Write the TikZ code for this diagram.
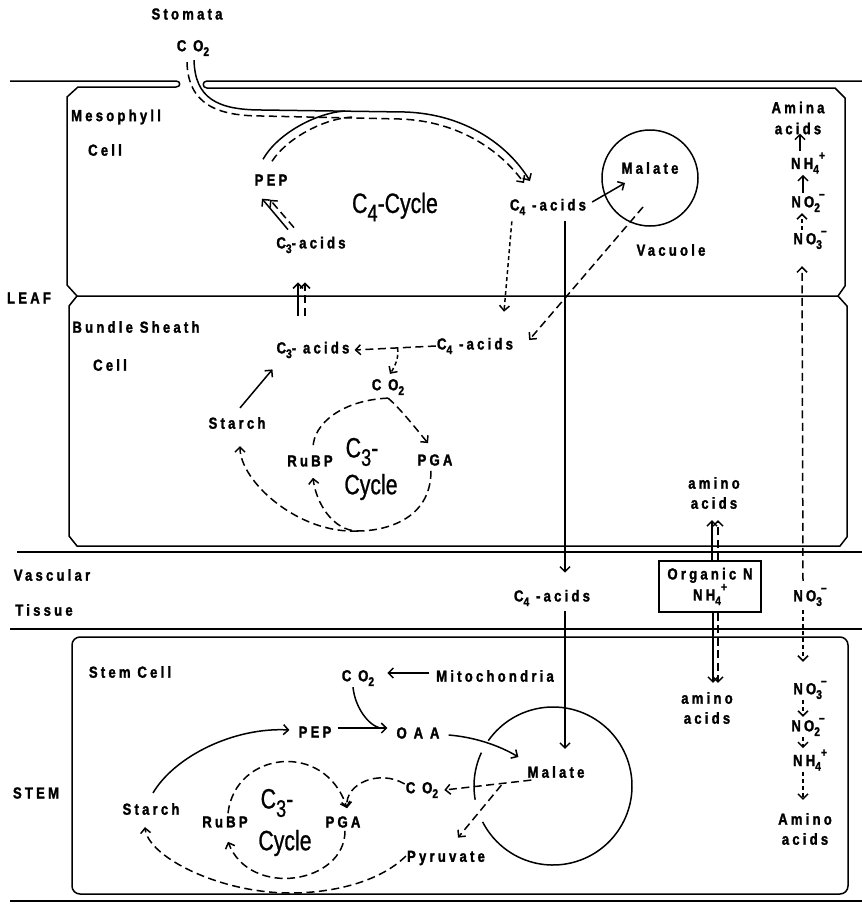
\documentclass[tikz,border=0pt]{standalone}
\usepackage{fontspec}
\newfontfamily\labfont[FakeStretch=0.82,LetterSpace=20,FakeBold=1.6]{Liberation Sans Bold}
\newfontfamily\bigfont[FakeStretch=0.76,FakeBold=0.8]{Liberation Sans}
\usetikzlibrary{arrows.meta,calc}
\newcommand\lowr[1]{\raisebox{-.55ex}{\fontsize{12.5}{12.5}\selectfont#1}}
\newcommand\highr[1]{\raisebox{1.1ex}{\fontsize{12.5}{12.5}\selectfont#1}}
\newcommand\ionm[1]{\lowr{#1}\kern-1pt\highr{\textendash}}
\newcommand\bsub[1]{\raisebox{-.3em}{\fontsize{24}{24}\selectfont#1}}
\tikzset{
  lab/.style={font=\labfont\fontsize{16}{20}\selectfont, inner sep=1pt, align=center},
  big/.style={font=\bigfont\fontsize{28}{30}\selectfont, inner sep=0pt},
  wall/.style={line width=1.5pt, line join=round},
  wire/.style={line width=1.5pt},
  dwire/.style={wire, dash pattern=on 8pt off 4.5pt},
  flow/.style={wire, -{Straight Barb[length=5pt,width=10pt]}},
  dflow/.style={flow, dash pattern=on 8pt off 4.5pt},
  sflow/.style={flow, dash pattern=on 4pt off 3pt},
}
\begin{document}
\begin{tikzpicture}[x=1pt,y=-1pt]
\useasboundingbox (0,0) rectangle (862,906);
% walls of leaf and stem
\draw[wall] (10,81) -- (176,81) .. controls (181,81) and (181,87) .. (176,87) -- (78,87) -- (67,97) -- (67,285) -- (77,296);
\draw[wall] (862,81) -- (207,81) .. controls (202,81) and (202,88) .. (207,88) -- (835,88) -- (845,98) -- (845,286) -- (838,296) -- (77,296) -- (69,306) -- (69,536) -- (77,546) -- (840,546) -- (847,537) -- (847,306) -- (838,296);
\draw[wall] (17,552) -- (862,552);
\draw[wall] (10,629) -- (862,629);
\draw[wall, rounded corners=8pt] (72,637) rectangle (848,894);
\draw[wall] (10,901) -- (862,901);
% vacuoles
\node[draw, circle, wall, minimum size=96pt, inner sep=0pt] (vacm) at (650,178) {};
\coordinate (vacs) at (553,786);
\draw[wall] ($(vacs)+(215:79)$) arc[start angle=215, end angle=513, radius=79];
\draw[wall] ($(vacs)+(170:79)$) arc[start angle=170, end angle=205, radius=79];

% mesophyll
\node[lab] (stomata) at (187,14) {Stomata};
\node[lab] (co2t) at (193,48) {C O\lowr{2}};
\node[lab] (meso) at (116,117) {Mesophyll};
\node[lab] (mcell) at (105,150) {Cell};
\node[lab] (pep) at (271,180) {PEP};
\node[big] (c4cyc) at (395,207) {C\bsub{4}-Cycle};
\node[lab] (c3m) at (311,245) {C\lowr{3}-acids};
\node[lab] (c4m) at (548,207) {C\lowr{4} -acids};
\node[lab] (malm) at (650,168) {Malate};
\node[lab] (vacl) at (671,250) {Vacuole};
\node[lab] (aminm) at (798,118) {Amina\\[1pt]acids};
\node[lab] (nh4m) at (808,163) {NH\lowr{4}\highr{+}};
\node[lab] (no2m) at (808,203) {NO\ionm{2}};
\node[lab] (no3m) at (810,240) {NO\ionm{3}};
\node[lab] (leaf) at (29,298) {LEAF};
% bundle sheath
\node[lab] (bundle) at (136,327) {Bundle Sheath};
\node[lab] (bcell) at (110,365) {Cell};
\node[lab] (c3b) at (313,350) {C\lowr{3}- acids};
\node[lab] (c4b) at (475,346) {C\lowr{4} -acids};
\node[lab] (co2b) at (388,387) {C O\lowr{2}};
\node[lab] (starchb) at (237,423) {Starch};
\node[lab] (rubpb) at (310,461) {RuBP};
\node[big] (c3cb) at (362,452) {C\bsub{3}-};
\node[big] (cycb) at (371,487) {Cycle};
\node[lab] (pgab) at (435,460) {PGA};
\node[lab] (aminb) at (714,493) {amino\\acids};
% vascular tissue
\node[lab] (vasc) at (52,575) {Vascular};
\node[lab] (tiss) at (44,610) {Tissue};
\node[lab] (c4v) at (552,598) {C\lowr{4} -acids};
\node[lab, draw, line width=1.2pt, minimum width=102pt, minimum height=51pt] (orgn) at (710,586.5) {Organic N\\NH\lowr{4}\highr{+}};
\node[lab] (no3v) at (810,597) {NO\ionm{3}};
% stem
\node[lab] (stemc) at (130,672) {Stem Cell};
\node[lab] (stem) at (36,793) {STEM};
\node[lab] (co2s) at (358,678) {C O\lowr{2}};
\node[lab] (mito) at (495,676) {Mitochondria};
\node[lab] (peps) at (315,732) {PEP};
\node[lab] (oaa) at (418,733) {O A A};
\node[lab] (mals) at (556,772) {Malate};
\node[lab] (co2s2) at (422,790) {C O\lowr{2}};
\node[lab] (pyr) at (446,858) {Pyruvate};
\node[lab] (starchs) at (151,809) {Starch};
\node[lab] (rubps) at (225,822) {RuBP};
\node[big] (c3cs) at (277,803) {C\bsub{3}-};
\node[big] (cycs) at (285,843) {Cycle};
\node[lab] (pgas) at (343,822) {PGA};
\node[lab] (amins) at (707,708) {amino\\acids};
\node[lab] (no3s) at (810,690) {NO\ionm{3}};
\node[lab] (no2s) at (808,727) {NO\ionm{2}};
\node[lab] (nh4s) at (810,760) {NH\lowr{4}\highr{+}};
\node[lab] (amino) at (805,829) {Amino\\acids};

% C4 cycle in the mesophyll
\coordinate (c4in) at (530,181);
\draw[flow] ($(co2t.south)+(1,3)$) .. controls +(1,38) and +(-45,0) .. (262,110) -- (405,112) .. controls (465,114) and (508,145) .. (c4in);
\draw[dflow] ($(co2t.south)+(-6,5)$) .. controls +(1,42) and +(-45,0) .. (262,116) -- (400,119) .. controls (458,121) and (500,150) .. ($(c4in)+(-6,2)$);
\draw[wire] ($(pep.north)+(-8,-14)$) .. controls +(14,-25) and +(-30,2) .. (345,111);
\draw[dwire] ($(pep.north)+(1,-12)$) .. controls +(14,-22) and +(-30,2) .. (352,117);
\draw[flow] ($(c3m.north)+(-23,-6)$) -- ($(pep.south)+(-9,12)$);
\draw[dflow] ($(c3m.north)+(-17,-8)$) -- ($(pep.south)+(-1,13)$);
\draw[flow] ($(c4m.east)+(5,-5)$) -- ($(malm.center)+(-25,15)$);
\draw[sflow] ($(c4m.south west)+(3,5)$) -- ($(c4b.north)+(29,-25)$);
\draw[flow] ($(c4m.south)+(17,5)$) -- ($(c4v.north)+(13,-16)$);
\draw[dflow] ($(vacm.center)+(-7,29)$) -- ($(c4b.east)+(15,-6)$);

% bundle sheath
\draw[dflow] (c4b.west) -- ($(c3b.east)+(4,0)$);
\coordinate (brb) at ($(c4b.west)!0.45!(c3b.east)$);
\draw[sflow] (brb) .. controls +(2,10) and +(4,-6) .. ($(co2b.north)+(2,-4)$);
\draw[flow] ($(c3b.north)+(-15,-25)$) -- ($(c3m.south)+(-13,28)$);
\draw[dflow] ($(c3b.north)+(-8,-25)$) -- ($(c3m.south)+(-6,28)$);
\draw[flow] ($(starchb.north)+(3,-8)$) -- ($(c3b.south west)+(-3,10)$);
\draw[dflow] ($(co2b.south)+(0,2)$) .. controls +(12,10) and +(-10,-12) .. ($(pgab.north)+(-7,-10)$);
\draw[dwire] ($(co2b.south)+(0,2)$) .. controls +(-45,2) and +(0,-25) .. ($(rubpb.north)+(3,-6)$);
\coordinate (cybot) at (358,531);
\draw[dflow] ($(pgab.south)+(-4,4)$) .. controls +(0,50) and +(25,0) .. (cybot) .. controls +(-25,0) and +(3,25) .. ($(rubpb.south)+(3,10)$);
\draw[dflow] (cybot) .. controls +(-60,3) and +(0,35) .. ($(starchb.south)+(3,16)$);

% nitrogen
\draw[flow] ($(orgn.north)+(2,0)$) -- ($(aminb.south)+(-2,10)$);
\draw[dflow] ($(orgn.north)+(8,0)$) -- ($(aminb.south)+(4,10)$);
\draw[flow] ($(orgn.south)+(3,0)$) -- ($(amins.north)+(6,-8)$);
\draw[dflow] ($(orgn.south)+(8,0)$) -- ($(amins.north)+(11,-8)$);
\draw[dflow] ($(no3v.north)+(-7,-6)$) -- ($(no3m.south)+(-8,16)$);
\draw[sflow] ($(no3m.north)+(-8,0)$) -- ($(no2m.south)+(-6,0)$);
\draw[flow] ($(no2m.north)+(-5,0)$) -- ($(nh4m.south)+(-5,0)$);
\draw[flow] ($(nh4m.north)+(-8,0)$) -- ($(aminm.south)+(2,-2)$);
\draw[sflow] ($(no3v.south)+(-7,3)$) -- ($(no3s.north)+(-7,-18)$);
\draw[sflow] ($(no3s.south)+(-7,0)$) -- ($(no2s.north)+(-5,0)$);
\draw[sflow] ($(no2s.south)+(-5,0)$) -- ($(nh4s.north)+(-7,0)$);
\draw[sflow] ($(nh4s.south)+(-7,0)$) -- ($(amino.north)+(-2,-12)$);

% stem cell
\draw[flow] ($(mito.west)+(-6,-3)$) -- ($(co2s.east)+(12,-5)$);
\coordinate (oaajoin) at (380,728);
\draw[wire] ($(co2s.south)+(-5,0)$) .. controls +(2,20) and +(-12,-3) .. (oaajoin);
\draw[flow] ($(peps.east)+(5,-4)$) -- ($(oaa.west)+(-8,-5)$);
\draw[flow] ($(oaa.east)+(8,2)$) .. controls +(25,2) and +(-20,-12) .. ($(mals.west)+(-8,-15)$);
\draw[flow] ($(c4v.south)+(13,4)$) -- ($(mals.north)+(9,-16)$);
\draw[dflow] ($(mals.south west)+(5,1)$) -- ($(co2s2.east)+(5,0)$);
\coordinate (brs) at ($(mals.south west)+(-25,6)$);
\draw[dflow] (brs) -- ($(pyr.north)+(12,-12)$);
\draw[dflow] ($(co2s2.west)+(0,-6)$) .. controls +(-25,-15) and +(-2,-25) .. ($(pgas.north)+(4,-7)$);
\draw[dflow] ($(rubps.north)+(3,-2)$) .. controls +(7,-62) and +(-22,-68) .. ($(pgas.north)+(4,-7)$);
\draw[dflow] ($(pgas.south)+(2,2)$) .. controls +(0,53) and +(22,57) .. ($(rubps.south)+(3,13)$);
\coordinate (cybs) at (290,893);
\draw[dflow] ($(pyr.west)+(0,-2)$) .. controls +(-25,25) and +(45,0) .. (cybs) .. controls +(-70,0) and +(3,30) .. ($(starchs.south)+(-6,11)$);
\draw[flow] ($(starchs.north)+(2,-9)$) .. controls +(22,-37) and +(-55,-3) .. ($(peps.west)+(-8,-2)$);
\end{tikzpicture}
\end{document}
